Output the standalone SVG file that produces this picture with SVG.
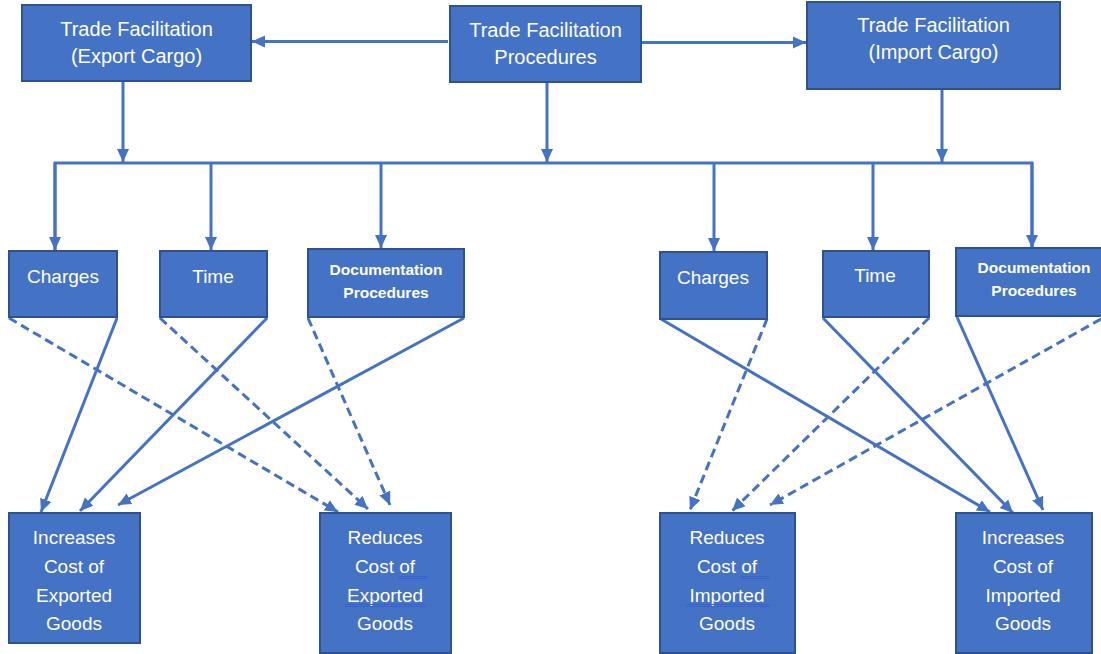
<svg xmlns="http://www.w3.org/2000/svg" width="1101" height="654" viewBox="0 0 1101 654">
<defs>
<style>
.box{fill:#4472C4;stroke:#2F528F;stroke-width:2}
.t{fill:#ffffff;font-family:"Liberation Sans",Arial,sans-serif;font-size:20px;text-anchor:middle}
.tm{fill:#ffffff;font-family:"Liberation Sans",Arial,sans-serif;font-size:19px;text-anchor:middle}
.tb{fill:#ffffff;font-family:"Liberation Sans",Arial,sans-serif;font-size:15.5px;font-weight:bold;text-anchor:middle}
.tl{fill:#ffffff;font-family:"Liberation Sans",Arial,sans-serif;font-size:19px;text-anchor:middle}
.ln{stroke:#4472C4;stroke-width:3;fill:none}
.a{marker-end:url(#ah)}
.d{stroke-dasharray:9 5}
.sp{stroke:#3A5FD0;stroke-width:1;fill:none}
</style>
<marker id="ah" markerUnits="userSpaceOnUse" markerWidth="14" markerHeight="14" viewBox="0 0 14 14" refX="13" refY="7" orient="auto">
<path d="M0,1 L13,7 L0,13 Z" fill="#4472C4"/>
</marker>
</defs>
<rect width="1101" height="654" fill="#ffffff"/>

<g id="connectors">
<line class="ln a" x1="448" y1="41.5" x2="252" y2="41.5"/>
<line class="ln a" x1="642" y1="42.5" x2="806" y2="42.5"/>
<line class="ln a" x1="123" y1="81" x2="123" y2="162"/>
<line class="ln a" x1="547" y1="83" x2="547" y2="162"/>
<line class="ln a" x1="942" y1="90" x2="942" y2="162"/>
<polyline class="ln" points="55,250 55,163 1032,163 1032,250"/>
<line class="ln a" x1="55" y1="163" x2="55" y2="250"/>
<line class="ln a" x1="211" y1="163" x2="211" y2="250"/>
<line class="ln a" x1="381" y1="163" x2="381" y2="248"/>
<line class="ln a" x1="714" y1="163" x2="714" y2="251"/>
<line class="ln a" x1="873" y1="163" x2="873" y2="250"/>
<line class="ln a" x1="1032" y1="163" x2="1032" y2="248"/>

<line class="ln a d" x1="9" y1="318" x2="338" y2="512"/>
<line class="ln a" x1="117" y1="318" x2="41" y2="512"/>
<line class="ln a d" x1="160" y1="318" x2="368" y2="509"/>
<line class="ln a" x1="267" y1="318" x2="80" y2="511"/>
<line class="ln a d" x1="308" y1="318" x2="390" y2="505"/>
<line class="ln a" x1="464" y1="318" x2="118" y2="505"/>

<line class="ln a" x1="661" y1="319" x2="990" y2="512"/>
<line class="ln a d" x1="767" y1="319" x2="690" y2="510"/>
<line class="ln a" x1="823" y1="318" x2="1013" y2="513"/>
<line class="ln a d" x1="929" y1="318" x2="732" y2="511"/>
<line class="ln a" x1="957" y1="317" x2="1043" y2="510"/>
<line class="ln a d" x1="1101" y1="319" x2="770" y2="505"/>
</g>

<g id="export-cargo">
<rect class="box" x="22" y="5" width="229" height="76"/>
<text class="t" x="136.5" y="36">Trade Facilitation</text>
<text class="t" x="136.5" y="63">(Export Cargo)</text>
</g>
<g id="procedures">
<rect class="box" x="450" y="6" width="191" height="76"/>
<text class="t" x="545.5" y="37">Trade Facilitation</text>
<text class="t" x="545.5" y="64">Procedures</text>
</g>
<g id="import-cargo">
<rect class="box" x="807" y="2" width="253" height="87"/>
<text class="t" x="933.5" y="32">Trade Facilitation</text>
<text class="t" x="933.5" y="59">(Import Cargo)</text>
</g>

<g id="charges-export">
<rect class="box" x="9" y="251" width="108" height="66"/>
<text class="tm" x="63" y="283">Charges</text>
</g>
<g id="time-export">
<rect class="box" x="160" y="251" width="107" height="66"/>
<text class="tm" x="213" y="283">Time</text>
</g>
<g id="doc-export">
<rect class="box" x="308" y="249" width="156" height="68"/>
<text class="tb" x="386" y="275">Documentation</text>
<text class="tb" x="386" y="298">Procedures</text>
</g>
<g id="charges-import">
<rect class="box" x="660" y="252" width="107" height="67"/>
<text class="tm" x="713" y="284">Charges</text>
</g>
<g id="time-import">
<rect class="box" x="823" y="251" width="106" height="66"/>
<text class="tm" x="875" y="282">Time</text>
</g>
<g id="doc-import">
<rect class="box" x="956" y="248" width="150" height="68"/>
<text class="tb" x="1034" y="273">Documentation</text>
<text class="tb" x="1034" y="296">Procedures</text>
</g>

<g id="increases-export">
<rect class="box" x="9" y="513" width="131" height="130"/>
<text class="tl" x="74" y="544">Increases</text>
<text class="tl" x="74" y="573">Cost of</text>
<text class="tl" x="74" y="602">Exported</text>
<text class="tl" x="74" y="630">Goods</text>
</g>
<g id="reduces-export">
<rect class="box" x="320" y="513" width="131" height="140"/>
<text class="tl" x="385" y="544">Reduces</text>
<text class="tl" x="385" y="573">Cost of </text>
<text class="tl" x="385" y="602">Exported</text>
<text class="tl" x="385" y="630">Goods</text>
<path class="sp" d="M399,576.5 H427 M399,578.5 H427 M345,604.5 H426 M345,606.5 H426"/>
</g>
<g id="reduces-import">
<rect class="box" x="660" y="513" width="135" height="140"/>
<text class="tl" x="727" y="544">Reduces</text>
<text class="tl" x="727" y="573">Cost of </text>
<text class="tl" x="727" y="602">Imported</text>
<text class="tl" x="727" y="630">Goods</text>
<path class="sp" d="M741,576.5 H769 M741,578.5 H769 M686,604.5 H770 M686,606.5 H770"/>
</g>
<g id="increases-import">
<rect class="box" x="956" y="513" width="136" height="140"/>
<text class="tl" x="1023" y="544">Increases</text>
<text class="tl" x="1023" y="573">Cost of</text>
<text class="tl" x="1023" y="602">Imported</text>
<text class="tl" x="1023" y="630">Goods</text>
</g>
</svg>
